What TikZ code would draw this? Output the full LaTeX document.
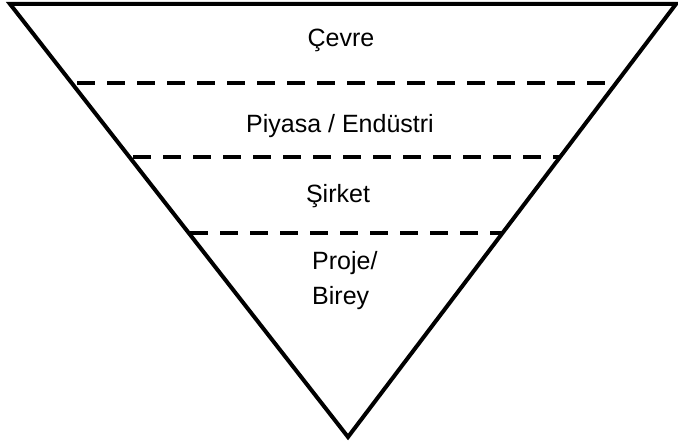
\documentclass[tikz,border=0pt]{standalone}
\usepackage{fontspec}
\setmainfont{Liberation Sans}
\begin{document}
\begin{tikzpicture}[x=1pt,y=-1pt,
  edge/.style={line width=4pt,line join=miter,black},
  divider/.style={line width=4pt,dash pattern=on 18pt off 12pt,black},
  label/.style={inner sep=0pt,font=\fontsize{25}{30}\selectfont}]
\useasboundingbox (0,0) rectangle (678,443);
% triangle
\coordinate (tl) at (10,4);
\coordinate (tr) at (676,4);
\coordinate (bot) at (348,437);
\draw[edge] (tl) -- (tr) -- (bot) -- cycle;
% dividers
\coordinate (d1l) at (77,83);
\coordinate (d1r) at (612,83);
\coordinate (d2l) at (133,157);
\coordinate (d2r) at (560,157);
\coordinate (d3l) at (190,233);
\coordinate (d3r) at (503,233);
\draw[divider] (d1l) -- (d1r);
\draw[divider] (d2l) -- (d2r);
\draw[divider] (d3l) -- (d3r);
% labels
\node[label,anchor=base] (cevre) at (341,47) {Çevre};
\node[label,anchor=base] (piyasa) at (340,133) {Piyasa / Endüstri};
\node[label,anchor=base] (sirket) at (338,203) {Şirket};
\node[label,anchor=base west] (proje) at (312,270) {Proje/};
\node[label,anchor=base west] (birey) at (312,305) {Birey};
\end{tikzpicture}
\end{document}
